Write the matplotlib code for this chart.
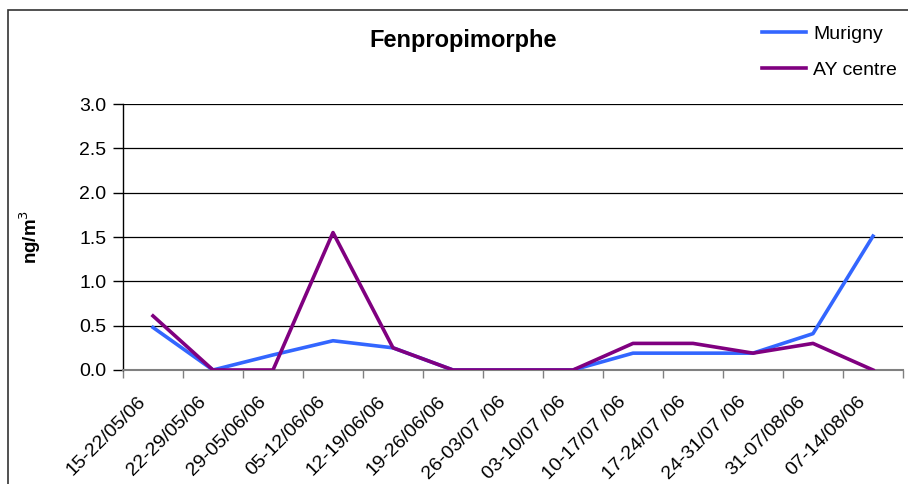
import numpy as np
import matplotlib.pyplot as plt
import matplotlib.transforms as mtransforms
from matplotlib.patches import Rectangle

plt.rcParams['font.family'] = ['Liberation Sans', 'DejaVu Sans']

periods = ['15-22/05/06', '22-29/05/06', '29-05/06/06', '05-12/06/06', '12-19/06/06',
           '19-26/06/06', '26-03/07 /06', '03-10/07 /06', '10-17/07 /06', '17-24/07 /06',
           '24-31/07 /06', '31-07/08/06', '07-14/08/06']
murigny = [0.48, 0.0, 0.17, 0.33, 0.25, 0.0, 0.0, 0.0, 0.19, 0.19, 0.19, 0.41, 1.51]
ay_centre = [0.61, 0.0, 0.0, 1.55, 0.25, 0.0, 0.0, 0.0, 0.30, 0.30, 0.19, 0.30, 0.0]

fig = plt.figure(figsize=(9.08, 4.84), dpi=100)
W, H = 908, 484
ax = fig.add_axes([123 / W, 1 - 370 / H, (903 - 123) / W, (370 - 104) / H])

x = np.arange(len(periods))
ax.plot(x, murigny, color='#3366FF', lw=2.6, label='Murigny', zorder=3)
ax.plot(x, ay_centre, color='#800080', lw=2.6, label='AY centre', zorder=4)

ax.set_xlim(-0.5, len(periods) - 0.5)
ax.set_ylim(0, 3.0)
ax.set_yticks(np.arange(0, 3.01, 0.5))
ax.set_yticklabels([f'{v:.1f}' for v in np.arange(0, 3.01, 0.5)], fontsize=14)
ax.yaxis.grid(True, color='black', lw=0.9)
ax.set_axisbelow(True)

# slanted category labels, placed a little down-left of each category centre
ax.set_xticks([])
ax.set_xticks(np.arange(-0.5, len(periods), 1.0), minor=True)
shift = mtransforms.ScaledTranslation(-16 / 100, -23 / 100, fig.dpi_scale_trans)
for xi, lab in zip(x, periods):
    ax.text(xi, 0, lab, transform=ax.get_xaxis_transform() + shift,
            rotation=45, ha='right', va='top', rotation_mode='anchor', fontsize=14)
ax.tick_params(axis='x', which='minor', length=6, color='#808080', width=1)
ax.tick_params(axis='y', length=7, width=1, pad=5)

for s in ['top', 'right']:
    ax.spines[s].set_visible(False)
ax.spines['bottom'].set_color('#808080')
ax.spines['bottom'].set_linewidth(1.5)
ax.spines['left'].set_linewidth(1)

ax.set_ylabel('ng/m$^3$', fontsize=13.5, fontweight='bold', labelpad=26)
fig.text(463 / W, 1 - 41 / H, 'Fenpropimorphe', ha='center', va='center',
         fontsize=17, fontweight='bold')

fig.legend(loc='upper left', bbox_to_anchor=(744 / W, 1 - 8 / H), frameon=False,
           fontsize=14, handlelength=2.3, labelspacing=0.95, handletextpad=0.35)

fig.patches.append(Rectangle((8 / W, -0.1), 1.1, (1 - 10 / H) + 0.1,
                             transform=fig.transFigure, fill=False,
                             edgecolor='#333333', lw=1.2))

fig.savefig('out.png', dpi=100)
